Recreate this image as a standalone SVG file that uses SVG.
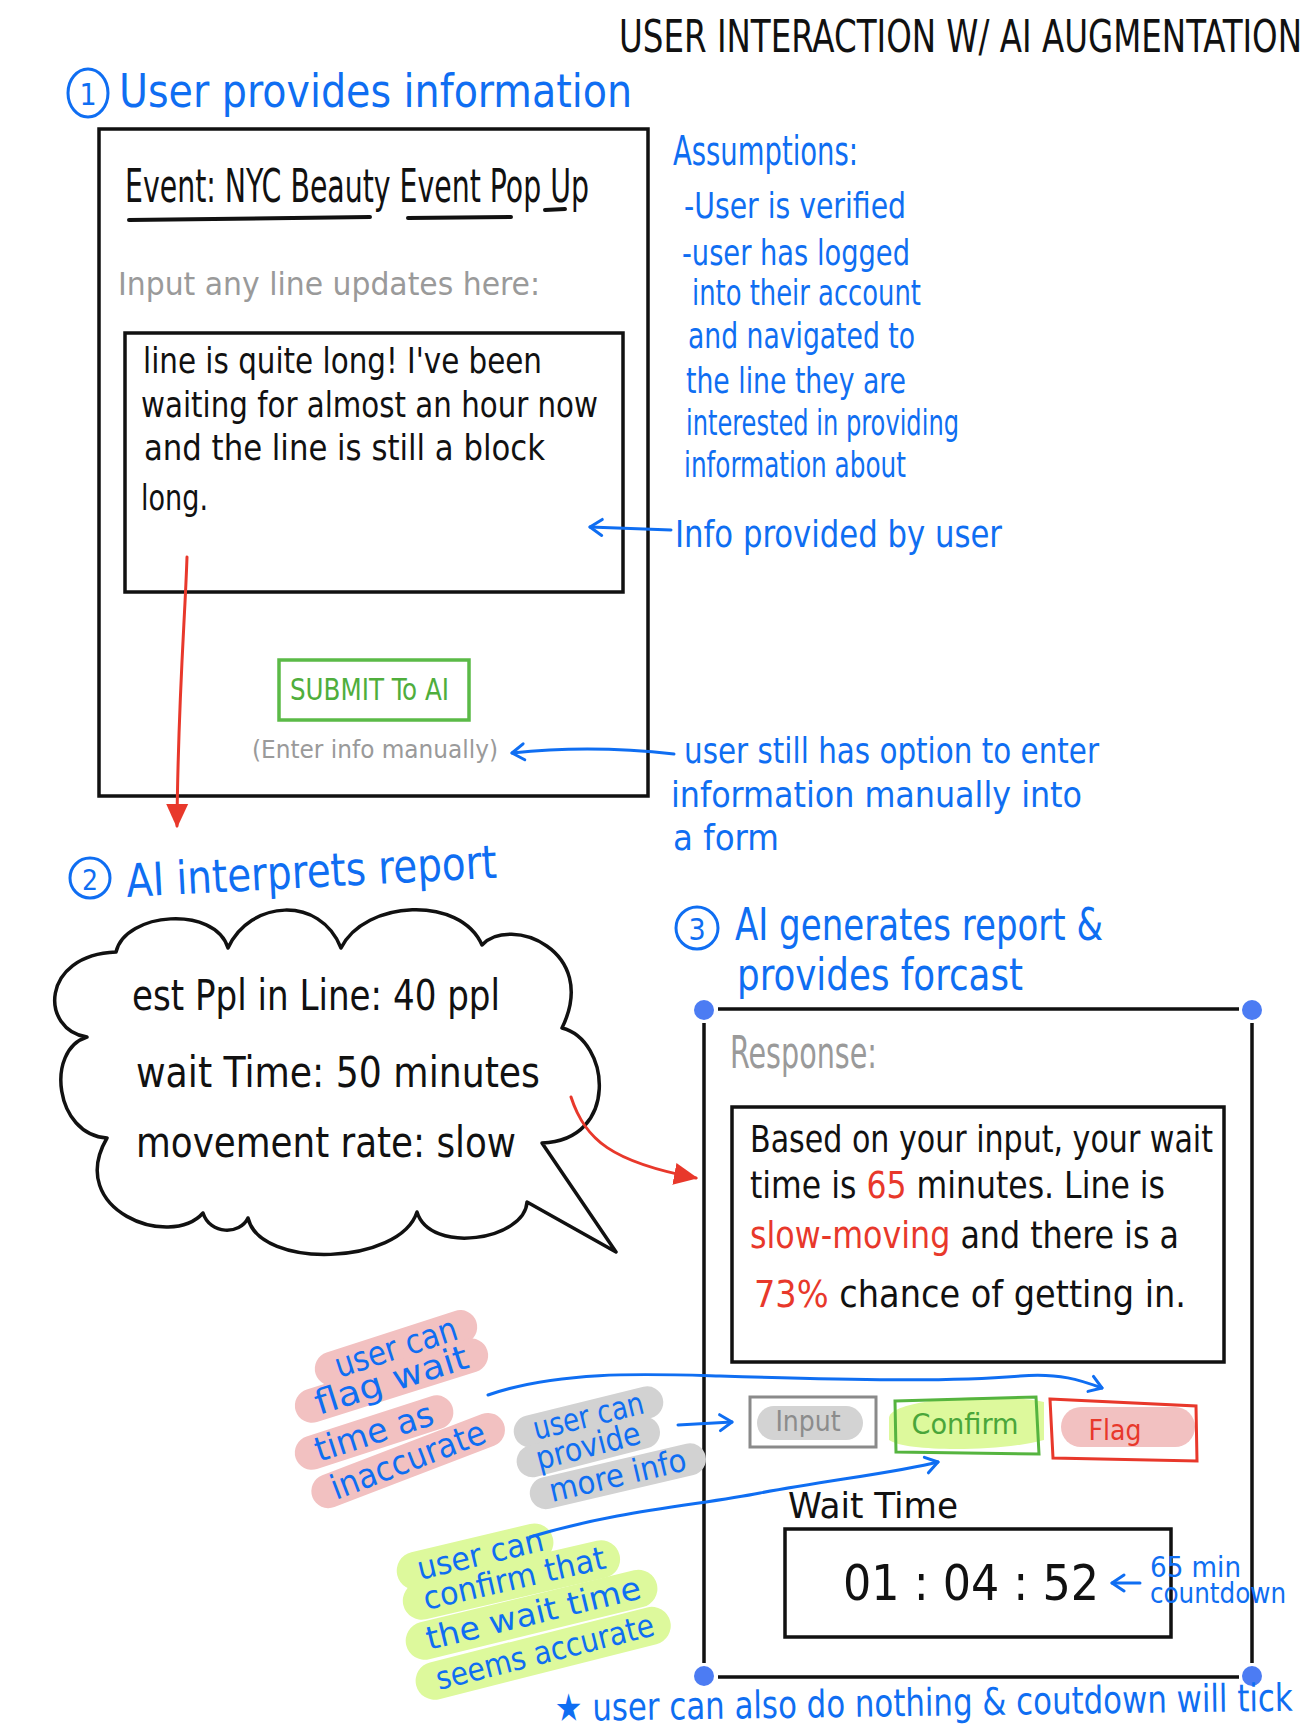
<svg xmlns="http://www.w3.org/2000/svg" width="1314" height="1733" viewBox="0 0 1314 1733">
<style>
text{font-family:"Liberation Sans Narrow","DejaVu Sans Condensed","Liberation Sans",sans-serif;}
.k{fill:#111;}
.b{fill:#0f6ef2;}
.g{fill:#9a9a9a;}
.r{fill:#e8382b;}
.gr{fill:#4fae3c;}
.box{fill:none;stroke:#111;stroke-width:3.5;}
.bl{fill:none;stroke:#0f6ef2;stroke-width:3;stroke-linecap:round;}
.rd{fill:none;stroke:#e8382b;stroke-width:3;stroke-linecap:round;}
.dot{fill:#4c7cf3;}
.hp{stroke:#f2c1c1;stroke-linecap:round;fill:none;stroke-width:34;}
.hg{stroke:#d2d2d2;stroke-linecap:round;fill:none;stroke-width:32;}
.hl{stroke:#ddf99c;stroke-linecap:round;fill:none;stroke-width:38;}
</style>
<defs>
<marker id="ob" viewBox="0 0 20 20" refX="17" refY="10" markerWidth="20" markerHeight="20" markerUnits="userSpaceOnUse" orient="auto">
<path d="M5,2 L17,10 L5,18" fill="none" stroke="#0f6ef2" stroke-width="3" stroke-linecap="round" stroke-linejoin="round"/>
</marker>
<marker id="fr" viewBox="0 0 24 24" refX="22" refY="12" markerWidth="24" markerHeight="24" markerUnits="userSpaceOnUse" orient="auto">
<path d="M0,1 L24,12 L0,23 Z" fill="#e8382b"/>
</marker>
</defs>
<rect width="1314" height="1733" fill="#fff"/>

<g id="title">
<text class="k" x="619" y="52" font-size="44" textLength="683" lengthAdjust="spacingAndGlyphs">USER INTERACTION W/ AI AUGMENTATION</text>
</g>

<g id="step1-header">
<ellipse cx="88" cy="93" rx="20" ry="24" class="bl"/>
<text class="b" x="88" y="105" font-size="30" text-anchor="middle">1</text>
<text class="b" x="119" y="107" font-size="46" textLength="513" lengthAdjust="spacingAndGlyphs">User provides information</text>
</g>

<g id="user-form">
<rect x="99" y="129" width="549" height="667" class="box"/>
<text class="k" x="125" y="202" font-size="46" textLength="464" lengthAdjust="spacingAndGlyphs">Event: NYC Beauty Event Pop Up</text>
<path d="M129,220 L370,217 M408,218 L511,217 M545,210 L565,209" stroke="#111" stroke-width="4" stroke-linecap="round" fill="none"/>
<text class="g" x="118" y="295" font-size="32" textLength="422" lengthAdjust="spacingAndGlyphs">Input any line updates here:</text>
<rect x="125" y="333" width="498" height="259" class="box"/>
<text class="k" x="143" y="373" font-size="36" textLength="399" lengthAdjust="spacingAndGlyphs">line is quite long! I've been</text>
<text class="k" x="141" y="417" font-size="36" textLength="457" lengthAdjust="spacingAndGlyphs">waiting for almost an hour now</text>
<text class="k" x="144" y="460" font-size="36" textLength="401" lengthAdjust="spacingAndGlyphs">and the line is still a block</text>
<text class="k" x="141" y="510" font-size="36" textLength="67" lengthAdjust="spacingAndGlyphs">long.</text>
<rect x="279" y="660" width="190" height="60" fill="none" stroke="#5bba47" stroke-width="3.5"/>
<text class="gr" x="290" y="700" font-size="30" textLength="159" lengthAdjust="spacingAndGlyphs">SUBMIT To AI</text>
<text class="g" x="252" y="758" font-size="24" textLength="246" lengthAdjust="spacingAndGlyphs">(Enter info manually)</text>
</g>

<g id="assumptions">
<text class="b" x="673" y="165" font-size="40" textLength="185" lengthAdjust="spacingAndGlyphs">Assumptions:</text>
<text class="b" x="684" y="218" font-size="36" textLength="222" lengthAdjust="spacingAndGlyphs">-User is verified</text>
<text class="b" x="682" y="265" font-size="36" textLength="228" lengthAdjust="spacingAndGlyphs">-user has logged</text>
<text class="b" x="692" y="305" font-size="36" textLength="229" lengthAdjust="spacingAndGlyphs">into their account</text>
<text class="b" x="688" y="348" font-size="36" textLength="227" lengthAdjust="spacingAndGlyphs">and navigated to</text>
<text class="b" x="686" y="393" font-size="36" textLength="220" lengthAdjust="spacingAndGlyphs">the line they are</text>
<text class="b" x="686" y="435" font-size="36" textLength="273" lengthAdjust="spacingAndGlyphs">interested in providing</text>
<text class="b" x="684" y="477" font-size="36" textLength="222" lengthAdjust="spacingAndGlyphs">information about</text>
</g>

<g id="note-info">
<text class="b" x="675" y="547" font-size="38" textLength="327" lengthAdjust="spacingAndGlyphs">Info provided by user</text>
</g>

<g id="note-manual">
<text class="b" x="684" y="763" font-size="36" textLength="415" lengthAdjust="spacingAndGlyphs">user still has option to enter</text>
<text class="b" x="671" y="807" font-size="36" textLength="411" lengthAdjust="spacingAndGlyphs">information manually into</text>
<text class="b" x="673" y="850" font-size="36" textLength="106" lengthAdjust="spacingAndGlyphs">a form</text>
</g>

<g id="step2-header">
<circle cx="90" cy="878" r="20" class="bl"/>
<text class="b" x="90" y="890" font-size="28" text-anchor="middle">2</text>
<text class="b" x="127" y="897" font-size="46" textLength="371" lengthAdjust="spacingAndGlyphs" transform="rotate(-3 127 897)">AI interprets report</text>
</g>

<g id="ai-cloud">
<path d="M116,952 C125,912 215,905 228,948 C250,900 320,895 341,948 C365,900 460,895 482,945 C510,915 600,950 562,1028 C610,1040 620,1140 542,1143 L616,1252 L527,1202 C525,1240 430,1255 417,1212 C400,1265 260,1270 248,1218 C240,1235 210,1235 203,1213 C170,1250 65,1210 107,1138 C55,1135 45,1050 87,1037 C40,1030 40,955 116,952 Z" fill="none" stroke="#111" stroke-width="3.5" stroke-linejoin="round"/>
<text class="k" x="132" y="1010" font-size="42" textLength="368" lengthAdjust="spacingAndGlyphs">est Ppl in Line: 40 ppl</text>
<text class="k" x="136" y="1087" font-size="42" textLength="404" lengthAdjust="spacingAndGlyphs">wait Time: 50 minutes</text>
<text class="k" x="136" y="1157" font-size="42" textLength="380" lengthAdjust="spacingAndGlyphs">movement rate: slow</text>
</g>

<g id="step3-header">
<circle cx="697" cy="928" r="21" class="bl"/>
<text class="b" x="697" y="940" font-size="30" text-anchor="middle">3</text>
<text class="b" x="735" y="940" font-size="44" textLength="368" lengthAdjust="spacingAndGlyphs">AI generates report &amp;</text>
<text class="b" x="737" y="990" font-size="44" textLength="286" lengthAdjust="spacingAndGlyphs">provides forcast</text>
</g>

<g id="response-screen">
<path d="M718,1009 L1239,1009 M704,1023 L704,1663 M1252,1023 L1252,1663 M718,1677 L1239,1677" stroke="#111" stroke-width="3.5" fill="none"/>
<circle cx="704" cy="1010" r="10" class="dot"/>
<circle cx="1252" cy="1010" r="10" class="dot"/>
<circle cx="704" cy="1676" r="10" class="dot"/>
<circle cx="1252" cy="1676" r="10" class="dot"/>
<text class="g" x="730" y="1068" font-size="44" textLength="147" lengthAdjust="spacingAndGlyphs">Response:</text>
<rect x="732" y="1107" width="492" height="255" class="box"/>
<text class="k" x="750" y="1152" font-size="38" textLength="463" lengthAdjust="spacingAndGlyphs">Based on your input, your wait</text>
<text class="k" x="750" y="1198" font-size="38" textLength="415" lengthAdjust="spacingAndGlyphs">time is <tspan class="r">65</tspan> minutes. Line is</text>
<text class="k" x="750" y="1248" font-size="38" textLength="429" lengthAdjust="spacingAndGlyphs"><tspan class="r">slow-moving</tspan> and there is a</text>
<text class="k" x="754" y="1307" font-size="38" textLength="432" lengthAdjust="spacingAndGlyphs"><tspan class="r">73%</tspan> chance of getting in.</text>
</g>

<g id="btn-input">
<rect x="750" y="1397" width="126" height="50" fill="none" stroke="#8a8a8a" stroke-width="3"/>
<rect x="757" y="1406" width="106" height="34" rx="17" fill="#d3d3d3"/>
<text x="808" y="1431" font-size="28" text-anchor="middle" fill="#8c8c8c">Input</text>
</g>

<g id="btn-confirm">
<path d="M889,1418 C890,1398 1000,1392 1044,1402 L1044,1440 C1000,1452 905,1452 889,1440 Z" fill="#ddf99c"/>
<path d="M895,1401 L1036,1397 L1039,1454 L896,1452 Z" fill="none" stroke="#55b43f" stroke-width="3"/>
<text x="965" y="1434" font-size="28" text-anchor="middle" textLength="107" lengthAdjust="spacingAndGlyphs" fill="#4aa63a">Confirm</text>
</g>

<g id="btn-flag">
<rect x="1061" y="1407" width="134" height="40" rx="20" fill="#f2c1c1"/>
<path d="M1050,1399 L1196,1406 L1197,1461 L1053,1458 Z" fill="none" stroke="#e8382b" stroke-width="3"/>
<text class="r" x="1115" y="1440" font-size="28" text-anchor="middle">Flag</text>
</g>

<g id="wait-timer">
<text class="k" x="788" y="1518" font-size="36" textLength="170" lengthAdjust="spacingAndGlyphs">Wait Time</text>
<rect x="785" y="1529" width="386" height="108" class="box"/>
<text class="k" x="843" y="1600" font-size="50" textLength="256" lengthAdjust="spacingAndGlyphs">01 : 04 : 52</text>
</g>

<g id="note-countdown">
<text class="b" x="1150" y="1577" font-size="28" textLength="91" lengthAdjust="spacingAndGlyphs">65 min</text>
<text class="b" x="1150" y="1603" font-size="28" textLength="136" lengthAdjust="spacingAndGlyphs">countdown</text>
</g>

<g id="note-flag">
<path d="M-4,-11 L131,-11" class="hp" transform="translate(339,1378) rotate(-18)"/>
<path d="M-4,-11 L163,-11" class="hp" transform="translate(319,1415) rotate(-17.5)"/>
<path d="M-4,-11 L127,-11" class="hp" transform="translate(319,1462) rotate(-18)"/>
<path d="M-4,-11 L167,-11" class="hp" transform="translate(336,1500) rotate(-21)"/>
<text class="b" x="339" y="1378" font-size="34" textLength="127" lengthAdjust="spacingAndGlyphs" transform="rotate(-18 339 1378)">user can</text>
<text class="b" x="319" y="1415" font-size="34" textLength="159" lengthAdjust="spacingAndGlyphs" transform="rotate(-17.5 319 1415)">flag wait</text>
<text class="b" x="319" y="1462" font-size="34" textLength="123" lengthAdjust="spacingAndGlyphs" transform="rotate(-18 319 1462)">time as</text>
<text class="b" x="336" y="1500" font-size="34" textLength="163" lengthAdjust="spacingAndGlyphs" transform="rotate(-21 336 1500)">inaccurate</text>
</g>

<g id="note-input">
<path d="M-4,-10 L117,-10" class="hg" transform="translate(536,1440) rotate(-13.8)"/>
<path d="M-4,-10 L111,-10" class="hg" transform="translate(539,1470) rotate(-14.5)"/>
<path d="M-4,-10 L144,-10" class="hg" transform="translate(552,1502) rotate(-13.2)"/>
<text class="b" x="536" y="1440" font-size="32" textLength="113" lengthAdjust="spacingAndGlyphs" transform="rotate(-13.8 536 1440)">user can</text>
<text class="b" x="539" y="1470" font-size="32" textLength="107" lengthAdjust="spacingAndGlyphs" transform="rotate(-14.5 539 1470)">provide</text>
<text class="b" x="552" y="1502" font-size="32" textLength="140" lengthAdjust="spacingAndGlyphs" transform="rotate(-13.2 552 1502)">more info</text>
</g>

<g id="note-confirm">
<path d="M-2,-10 L120,-10" class="hl" transform="translate(420,1580) rotate(-13.4)"/>
<path d="M-2,-10 L182,-10" class="hl" transform="translate(426,1610) rotate(-13)"/>
<path d="M-2,-10 L218,-10" class="hl" transform="translate(429,1650) rotate(-13.7)"/>
<path d="M-2,-10 L222,-10" class="hl" transform="translate(439,1690) rotate(-14.2)"/>
<text class="b" x="420" y="1580" font-size="32" textLength="129" lengthAdjust="spacingAndGlyphs" transform="rotate(-13.4 420 1580)">user can</text>
<text class="b" x="426" y="1610" font-size="32" textLength="186" lengthAdjust="spacingAndGlyphs" transform="rotate(-13 426 1610)">confirm that</text>
<text class="b" x="429" y="1650" font-size="32" textLength="220" lengthAdjust="spacingAndGlyphs" transform="rotate(-13.7 429 1650)">the wait time</text>
<text class="b" x="439" y="1690" font-size="32" textLength="224" lengthAdjust="spacingAndGlyphs" transform="rotate(-14.2 439 1690)">seems accurate</text>
</g>

<g id="note-bottom">
<text class="b" x="555" y="1721" font-size="38" textLength="738" lengthAdjust="spacingAndGlyphs" transform="rotate(-0.8 555 1721)">★ user can also do nothing &amp; coutdown will tick</text>
</g>

<g id="connectors">
<path d="M187,557 C185,620 178,700 177,826" class="rd" marker-end="url(#fr)"/>
<path d="M571,1097 C585,1140 612,1162 696,1178" class="rd" marker-end="url(#fr)"/>
<path d="M671,530 L590,527" class="bl" marker-end="url(#ob)"/>
<path d="M674,754 C620,748 560,748 512,753" class="bl" marker-end="url(#ob)"/>
<path d="M488,1395 C560,1370 650,1374 720,1376 C850,1380 950,1382 1020,1376 C1060,1373 1080,1380 1102,1388" class="bl" marker-end="url(#ob)"/>
<path d="M678,1425 L732,1422" class="bl" marker-end="url(#ob)"/>
<path d="M530,1537 C620,1510 700,1505 760,1493 C830,1480 900,1472 938,1462" class="bl" marker-end="url(#ob)"/>
<path d="M1140,1583 L1112,1583" class="bl" marker-end="url(#ob)"/>
</g>
</svg>
